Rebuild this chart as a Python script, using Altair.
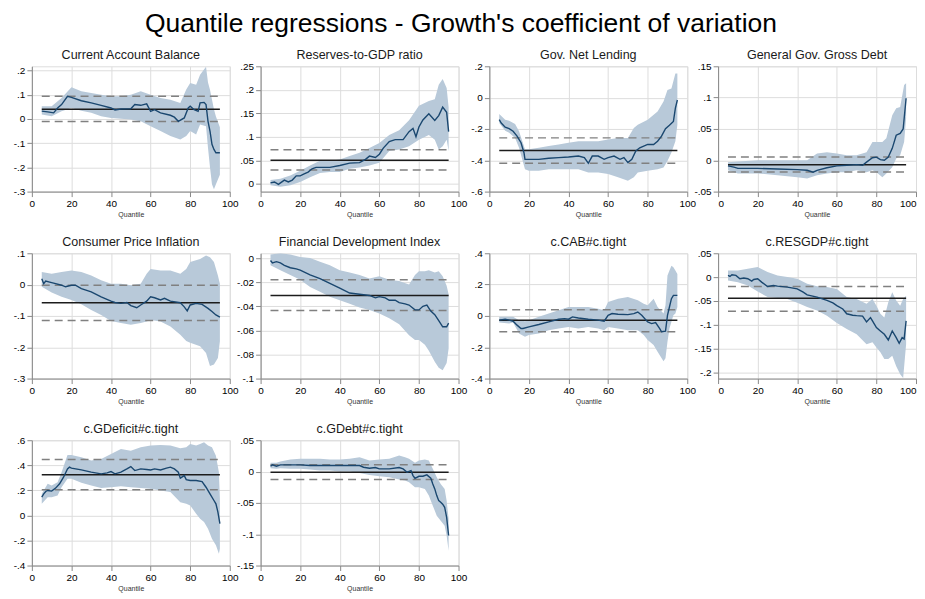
import altair as alt
import pandas as pd

MAIN_TITLE = "Quantile regressions - Growth's coefficient of variation"

# ---------------- Panel 1: Current Account Balance ----------------
p1_line_q = [5, 8, 11, 13, 15, 18, 20, 25, 30, 35, 40, 42, 45, 50, 52, 55, 58, 60, 62, 65, 70, 72, 74, 77, 79, 80, 82, 84, 85, 87, 88, 89, 90, 91, 92, 93, 95]
p1_line_v = [.032, .029, .025, .045, .059, .093, .089, .075, .066, .056, .045, .037, .041, .042, .059, .056, .062, .031, .038, .025, .015, .007, -.010, .004, .045, .052, .038, .031, .066, .068, .059, -.010, -.050, -.105, -.126, -.140, -.140]
p1_band_q = [5, 10, 15, 20, 25, 30, 35, 40, 45, 50, 55, 60, 65, 70, 75, 78, 80, 83, 85, 88, 89, 90, 91, 92, 93, 95]
p1_band_hi = [.052, .052, .086, .131, .114, .107, .100, .093, .093, .100, .114, .100, .086, .079, .066, .121, .148, .141, .182, .215, .150, .120, .080, .040, .010, -.035]
p1_band_lo = [.018, .011, .032, .045, .034, .025, .011, .004, .001, -.003, -.010, -.030, -.050, -.071, -.085, -.071, -.050, -.064, -.023, -.030, -.120, -.200, -.270, -.290, -.270, -.230]
p1_ols = [.040, -.011, .093]

# ---------------- Panel 2: Reserves-to-GDP ratio ----------------
p2_line_q = [5, 7, 9, 12, 14, 16, 18, 20, 22, 24, 26, 28, 30, 35, 40, 45, 50, 53, 55, 58, 60, 62, 65, 68, 72, 75, 77, 78.5, 80, 82, 85, 88, 90, 92, 94, 95]
p2_line_v = [.002, .004, -.001, .008, .004, .008, .017, .017, .021, .025, .032, .035, .035, .035, .039, .044, .045, .052, .059, .056, .063, .076, .090, .094, .094, .111, .118, .100, .121, .136, .149, .135, .145, .163, .152, .111]
p2_band_q = [5, 10, 15, 20, 25, 30, 35, 40, 45, 50, 55, 60, 65, 70, 75, 80, 85, 88, 90, 92, 94, 95]
p2_band_hi = [.008, .011, .018, .028, .039, .049, .049, .052, .059, .066, .076, .087, .104, .114, .135, .166, .176, .180, .211, .223, .204, .163]
p2_band_lo = [-.003, -.006, -.003, .004, .014, .023, .025, .025, .032, .035, .039, .045, .070, .073, .080, .094, .104, .094, .073, .080, .094, .070]
p2_ols = [.050, .0296, .0727]

# ---------------- Panel 3: Gov. Net Lending ----------------
p3_line_q = [5, 6, 8, 10, 12, 14, 16, 17.5, 18, 20, 25, 30, 35, 40, 45, 48, 50, 52, 55, 58, 60, 63, 66, 68, 70, 72, 74, 76, 78, 80, 83, 85, 87, 89, 91, 93, 94, 95]
p3_line_v = [-.141, -.162, -.189, -.198, -.215, -.246, -.288, -.352, -.394, -.394, -.394, -.387, -.383, -.379, -.373, -.383, -.419, -.373, -.373, -.394, -.383, -.373, -.394, -.383, -.415, -.394, -.341, -.320, -.309, -.299, -.299, -.278, -.246, -.198, -.177, -.152, -.067, -.015]
p3_band_q = [5, 8, 10, 13, 15, 18, 20, 25, 30, 35, 40, 45, 50, 55, 60, 65, 70, 73, 75, 80, 85, 88, 90, 92, 94, 95]
p3_band_hi = [-.105, -.141, -.147, -.168, -.215, -.330, -.330, -.320, -.309, -.299, -.288, -.278, -.278, -.278, -.267, -.257, -.257, -.194, -.173, -.141, -.088, -.025, .048, .059, .154, .154]
p3_band_lo = [-.162, -.211, -.225, -.257, -.320, -.457, -.467, -.467, -.457, -.457, -.457, -.457, -.478, -.478, -.488, -.509, -.530, -.509, -.478, -.467, -.457, -.446, -.404, -.350, -.278, -.173]
p3_ols = [-.337, -.419, -.257]

# ---------------- Panel 4: General Gov. Gross Debt ----------------
p4_line_q = [5, 8, 10, 20, 30, 40, 45, 48, 50, 55, 60, 65, 70, 73, 75, 78, 80, 82, 84, 86, 88, 90, 92, 93.5, 95]
p4_line_v = [-.009, -.011, -.013, -.013, -.014, -.015, -.016, -.019, -.016, -.012, -.009, -.008, -.007, -.008, -.003, .004, .005, .001, .000, .005, .019, .040, .043, .050, .099]
p4_band_q = [5, 10, 20, 30, 40, 45, 50, 55, 60, 65, 70, 75, 78, 80, 83, 85, 88, 90, 92, 94, 95]
p4_band_hi = [-.003, -.002, .000, .000, .000, .000, .011, .013, .011, .008, .008, .013, .029, .029, .029, .035, .072, .083, .085, .120, .123]
p4_band_lo = [-.016, -.021, -.021, -.024, -.027, -.029, -.024, -.021, -.019, -.019, -.016, -.019, -.016, -.019, -.027, -.021, -.011, .003, .008, .029, .067]
p4_ols = [-.007, -.0187, .0053]

# ---------------- Panel 5: Consumer Price Inflation ----------------
p5_line_q = [5, 6, 7, 9, 12, 15, 17, 20, 22, 25, 30, 35, 40, 42, 45, 48, 50, 53, 55, 58, 60, 62, 65, 67, 70, 75, 77, 78.5, 80, 83, 86, 89, 91, 93, 95]
p5_line_v = [.019, .003, .011, .008, .003, -.002, -.007, -.002, -.002, -.013, -.023, -.039, -.053, -.057, -.060, -.057, -.067, -.074, -.065, -.053, -.039, -.042, -.049, -.044, -.053, -.058, -.071, -.084, -.065, -.060, -.063, -.076, -.086, -.097, -.104]
p5_band_q = [5, 10, 15, 20, 25, 30, 35, 40, 45, 50, 55, 58, 60, 65, 70, 75, 78, 80, 85, 88, 90, 92, 94, 95]
p5_band_hi = [.040, .035, .040, .045, .040, .029, .014, .003, .003, -.002, .003, .035, .050, .045, .045, .035, .050, .072, .082, .093, .087, .072, .029, .003]
p5_band_lo = [-.007, -.025, -.039, -.049, -.063, -.081, -.097, -.116, -.123, -.128, -.123, -.118, -.113, -.118, -.134, -.160, -.180, -.186, -.197, -.218, -.260, -.255, -.234, -.181]
p5_ols = [-.058, -.115, -.002]

# ---------------- Panel 6: Financial Development Index ----------------
p6_line_q = [5, 6, 8, 10, 12, 15, 18, 20, 25, 30, 35, 40, 45, 50, 55, 58, 60, 63, 65, 68, 70, 73, 75, 78, 80, 82, 84, 86, 88, 90, 92, 94, 95]
p6_line_v = [-.002, -.004, -.003, -.004, -.006, -.008, -.009, -.010, -.014, -.017, -.021, -.025, -.029, -.030, -.031, -.033, -.032, -.033, -.035, -.035, -.037, -.038, -.039, -.043, -.043, -.040, -.039, -.044, -.047, -.052, -.057, -.057, -.054]
p6_band_q = [5, 10, 15, 20, 25, 30, 35, 40, 45, 50, 55, 60, 65, 70, 75, 78, 80, 83, 85, 88, 90, 92, 94, 95]
p6_band_hi = [.003, .004, .003, .001, .000, -.003, -.006, -.010, -.012, -.014, -.017, -.015, -.018, -.019, -.022, -.014, -.011, -.011, -.010, -.012, -.011, -.015, -.023, -.030]
p6_band_lo = [-.006, -.010, -.014, -.018, -.024, -.028, -.032, -.035, -.038, -.041, -.043, -.046, -.050, -.055, -.064, -.068, -.068, -.072, -.077, -.086, -.091, -.093, -.087, -.075]
p6_ols = [-.031, -.0436, -.018]

# ---------------- Panel 7: c.CAB#c.tight ----------------
p7_line_q = [5, 8, 10, 12, 14, 16, 17, 20, 25, 30, 35, 38, 40, 42, 45, 50, 55, 58, 60, 62, 65, 70, 73, 75, 77, 80, 82, 84, 86, 87, 89, 90, 91, 92, 93, 95]
p7_line_v = [-.027, -.021, -.027, -.034, -.059, -.080, -.080, -.070, -.055, -.038, -.021, -.017, -.021, -.006, -.013, -.021, -.027, -.034, .004, .015, .011, .008, .015, .025, .004, -.038, -.049, -.042, -.080, -.101, -.097, .004, .057, .110, .131, .131]
p7_band_q = [5, 10, 12, 15, 18, 20, 25, 30, 35, 40, 45, 50, 55, 58, 60, 65, 70, 75, 78, 80, 83, 85, 88, 89, 90, 91, 92, 93, 94, 95]
p7_band_hi = [-.006, -.006, -.006, -.027, -.034, -.027, -.006, .015, .036, .057, .057, .057, .046, .036, .089, .110, .120, .100, .078, .068, .110, .057, .015, .068, .258, .290, .320, .310, .290, .268]
p7_band_lo = [-.042, -.049, -.042, -.112, -.133, -.122, -.112, -.091, -.080, -.070, -.080, -.070, -.080, -.091, -.070, -.080, -.091, -.091, -.122, -.154, -.186, -.228, -.290, -.270, -.165, -.080, -.038, .004, .015, .057]
p7_ols = [-.0274, -.101, .040]

# ---------------- Panel 8: c.RESGDP#c.tight ----------------
p8_line_q = [5, 6, 7, 9, 11, 13, 15, 17, 18, 20, 22, 25, 28, 30, 35, 40, 43, 45, 50, 55, 58, 60, 63, 65, 68, 70, 73, 75, 77, 78, 80, 82, 84, 86, 88, 90, 91.5, 93, 94, 95]
p8_line_v = [.0035, .0014, .005, .0035, -.0035, -.002, -.0035, -.0085, -.005, -.0035, -.0106, -.0197, -.0176, -.019, -.021, -.0246, -.0317, -.0373, -.042, -.049, -.054, -.060, -.067, -.077, -.080, -.081, -.082, -.094, -.085, -.092, -.106, -.113, -.120, -.132, -.113, -.127, -.139, -.127, -.130, -.092]
p8_band_q = [5, 10, 15, 20, 25, 30, 35, 40, 45, 50, 55, 60, 65, 70, 75, 78, 80, 82, 84, 86, 88, 90, 92, 93.5, 95]
p8_band_hi = [.014, .014, .0176, .021, .0106, .0035, .000, -.0035, -.014, -.019, -.021, -.025, -.042, -.046, -.056, -.046, -.060, -.077, -.085, -.053, -.032, -.049, -.060, -.046, -.039]
p8_band_lo = [-.007, -.0106, -.0176, -.030, -.042, -.044, -.046, -.054, -.063, -.070, -.081, -.0965, -.109, -.120, -.141, -.137, -.148, -.158, -.172, -.172, -.165, -.187, -.204, -.212, -.141]
p8_ols = [-.0444, -.0718, -.0197]

# ---------------- Panel 9: c.GDeficit#c.tight ----------------
p9_line_q = [5, 6, 7, 8, 10, 12, 14, 16, 18, 19, 20, 25, 30, 35, 38, 40, 42, 45, 48, 50, 52, 55, 58, 60, 62, 65, 68, 70, 72, 74, 75, 77, 78, 80, 83, 86, 88, 90, 92, 93, 94, 95]
p9_line_v = [.146, .172, .191, .199, .194, .218, .252, .305, .371, .385, .377, .363, .345, .332, .340, .350, .332, .345, .371, .390, .358, .371, .366, .363, .371, .363, .377, .385, .371, .345, .297, .318, .286, .279, .279, .270, .225, .172, .119, .093, .027, -.066]
p9_band_q = [5, 8, 10, 13, 15, 18, 20, 25, 30, 35, 40, 45, 50, 55, 60, 65, 70, 75, 78, 80, 83, 85, 87, 89, 91, 93, 94.5, 95]
p9_band_hi = [.172, .252, .239, .265, .345, .483, .483, .464, .438, .451, .490, .530, .517, .544, .557, .562, .557, .536, .544, .570, .557, .570, .584, .557, .544, .477, .345, .133]
p9_band_lo = [.093, .146, .146, .159, .225, .292, .292, .260, .239, .218, .225, .233, .225, .218, .212, .199, .186, .106, .093, .080, .013, -.027, -.053, -.106, -.186, -.239, -.305, -.265]
p9_ols = [.324, .204, .446]

# ---------------- Panel 10: c.GDebt#c.tight ----------------
p10_line_q = [5, 6, 8, 10, 15, 20, 25, 30, 35, 40, 45, 50, 52, 55, 58, 60, 65, 70, 72, 74, 76, 77, 78, 80, 82, 84, 86, 87, 88, 89, 90, 91, 92, 93, 94, 95]
p10_line_v = [.0085, .0107, .0085, .0107, .0107, .0107, .0096, .0096, .0096, .0096, .0096, .0096, .0069, .0053, .0064, .0043, .0043, .0064, .0043, -.001, .0016, -.0064, -.0107, -.0075, -.0075, -.0053, -.0107, -.0197, -.0277, -.0384, -.0464, -.049, -.052, -.057, -.073, -.102]
p10_band_q = [5, 8, 10, 15, 20, 25, 30, 35, 40, 45, 50, 55, 60, 65, 70, 73, 75, 78, 80, 83, 85, 87, 89, 91, 93, 94, 95]
p10_band_hi = [.0139, .0139, .016, .0192, .0203, .0203, .0203, .0192, .0192, .0203, .0229, .0176, .0192, .0203, .0256, .0229, .0203, .0139, .0176, .0192, .0176, .0043, -.0091, -.0197, -.0277, -.0464, -.0757]
p10_band_lo = [.0053, .0043, .0053, .0043, .0043, .0032, .0016, .0016, .000, .000, -.0021, -.0053, -.0075, -.0091, -.0128, -.0144, -.0171, -.0251, -.0251, -.0277, -.0384, -.0544, -.0704, -.0784, -.0864, -.1024, -.1264]
p10_ols = [-.001, -.0128, .0107]

TITLES = ["Current Account Balance", "Reserves-to-GDP ratio", "Gov. Net Lending",
          "General Gov. Gross Debt", "Consumer Price Inflation", "Financial Development Index",
          "c.CAB#c.tight", "c.RESGDP#c.tight", "c.GDeficit#c.tight", "c.GDebt#c.tight"]
Y_DOMAINS = [[-0.3, 0.217], [-0.0165, 0.25], [-0.6, 0.2], [-0.05, 0.15], [-0.3, 0.1],
             [-0.1, 0.004], [-0.4, 0.4], [-0.213, 0.05], [-0.4, 0.6], [-0.15, 0.05]]
Y_TICKS = [[-.3, -.2, -.1, 0, .1, .2], [0, .05, .1, .15, .2, .25], [-.6, -.4, -.2, 0, .2],
           [-.05, 0, .05, .1, .15], [-.3, -.2, -.1, 0, .1], [-.1, -.08, -.06, -.04, -.02, 0],
           [-.4, -.2, 0, .2, .4], [-.2, -.15, -.1, -.05, 0, .05], [-.4, -.2, 0, .2, .4, .6],
           [-.15, -.1, -.05, 0, .05]]
X_TICKS = [0, 20, 40, 60, 80, 100]

LINES = [(p1_line_q, p1_line_v), (p2_line_q, p2_line_v), (p3_line_q, p3_line_v), (p4_line_q, p4_line_v),
         (p5_line_q, p5_line_v), (p6_line_q, p6_line_v), (p7_line_q, p7_line_v), (p8_line_q, p8_line_v),
         (p9_line_q, p9_line_v), (p10_line_q, p10_line_v)]
BANDS = [(p1_band_q, p1_band_lo, p1_band_hi), (p2_band_q, p2_band_lo, p2_band_hi),
         (p3_band_q, p3_band_lo, p3_band_hi), (p4_band_q, p4_band_lo, p4_band_hi),
         (p5_band_q, p5_band_lo, p5_band_hi), (p6_band_q, p6_band_lo, p6_band_hi),
         (p7_band_q, p7_band_lo, p7_band_hi), (p8_band_q, p8_band_lo, p8_band_hi),
         (p9_band_q, p9_band_lo, p9_band_hi), (p10_band_q, p10_band_lo, p10_band_hi)]
OLS = [p1_ols, p2_ols, p3_ols, p4_ols, p5_ols, p6_ols, p7_ols, p8_ols, p9_ols, p10_ols]

FONT = "Liberation Sans"
BAND_COLOR = "#b8c9d9"
NAVY = "#1a476f"
W, H = 199, 126
LABEL_EXPR = "replace(replace(format(datum.value, '~g'), '0.', '.'), '\u2212', '-')"


def make_panel(i):
    lq, lv = LINES[i]
    bq, blo, bhi = BANDS[i]
    b, b_lo, b_hi = OLS[i]
    last_col = (i % 4 == 3)
    xs = alt.Scale(domain=[0, 100], nice=False, zero=False, padding=0)
    ys = alt.Scale(domain=Y_DOMAINS[i], nice=False, zero=False, padding=0)
    xaxis = alt.Axis(values=X_TICKS, title="Quantile", format="d", labelFlush=last_col,
                     titleFontWeight="normal", titleFontSize=7, titleFont=FONT,
                     titleColor="#333333", titlePadding=2)
    yaxis = alt.Axis(values=Y_TICKS[i], title=None, labelExpr=LABEL_EXPR, labelFlush=False)

    band_df = pd.DataFrame({"q": bq, "lo": blo, "hi": bhi})
    line_df = pd.DataFrame({"q": lq, "v": lv})
    ols_df = pd.DataFrame({"q0": [5], "q1": [95], "b": [b], "blo": [b_lo], "bhi": [b_hi]})
    title_df = pd.DataFrame({"t": [TITLES[i]]})

    band = alt.Chart(band_df).mark_area(color=BAND_COLOR, opacity=1, clip=True).encode(
        x=alt.X("q:Q", scale=xs, axis=xaxis),
        y=alt.Y("lo:Q", scale=ys, axis=yaxis),
        y2="hi:Q",
    )
    dash_lo = alt.Chart(ols_df).mark_rule(color="#808080", strokeWidth=1.5, strokeDash=[8, 5]).encode(
        x=alt.X("q0:Q", scale=xs, axis=xaxis), x2="q1:Q",
        y=alt.Y("blo:Q", scale=ys, axis=yaxis),
    )
    dash_hi = alt.Chart(ols_df).mark_rule(color="#808080", strokeWidth=1.5, strokeDash=[8, 5]).encode(
        x=alt.X("q0:Q", scale=xs, axis=xaxis), x2="q1:Q",
        y=alt.Y("bhi:Q", scale=ys, axis=yaxis),
    )
    solid = alt.Chart(ols_df).mark_rule(color="#1c1c1c", strokeWidth=1.5).encode(
        x=alt.X("q0:Q", scale=xs, axis=xaxis), x2="q1:Q",
        y=alt.Y("b:Q", scale=ys, axis=yaxis),
    )
    line = alt.Chart(line_df).mark_line(color=NAVY, strokeWidth=1.4, clip=True).encode(
        x=alt.X("q:Q", scale=xs, axis=xaxis),
        y=alt.Y("v:Q", scale=ys, axis=yaxis),
    )
    ttl = alt.Chart(title_df).mark_text(
        font=FONT, fontSize=12.6, color="#1a1a1a", align="center", baseline="alphabetic"
    ).encode(text="t:N", x=alt.value(W / 2), y=alt.value(-7))
    return alt.layer(band, dash_lo, dash_hi, solid, line, ttl).properties(width=W, height=H)


panels = [make_panel(i) for i in range(10)]

chart = alt.concat(
    *panels, columns=4, spacing={"row": 62, "column": 31}, bounds="flush"
).properties(
    title=alt.TitleParams(MAIN_TITLE, fontSize=26.6, font=FONT, fontWeight="normal",
                          color="#000000", anchor="middle", offset=11, dx=-4),
    padding={"left": 4, "top": 1, "right": 0, "bottom": 0},
).configure_view(
    stroke=None
).configure_scale(
    continuousPadding=0
).configure_axis(
    labelFont=FONT, labelFontSize=7.5, labelColor="#333333",
    titleFont=FONT, titleFontSize=7, titleFontWeight="normal", titleColor="#333333",
    titlePadding=2, labelPadding=2,
    domainColor="#a0a0a0", tickColor="#a0a0a0", tickSize=4,
    gridColor="#dcdcdc", gridDash=[1, 3], gridWidth=1,
    labelOverlap=False,
).configure_axisY(
    labelAngle=0,
).configure(
    background="white"
)

chart.save("out.html", embed_options={"renderer": "svg", "actions": False})
